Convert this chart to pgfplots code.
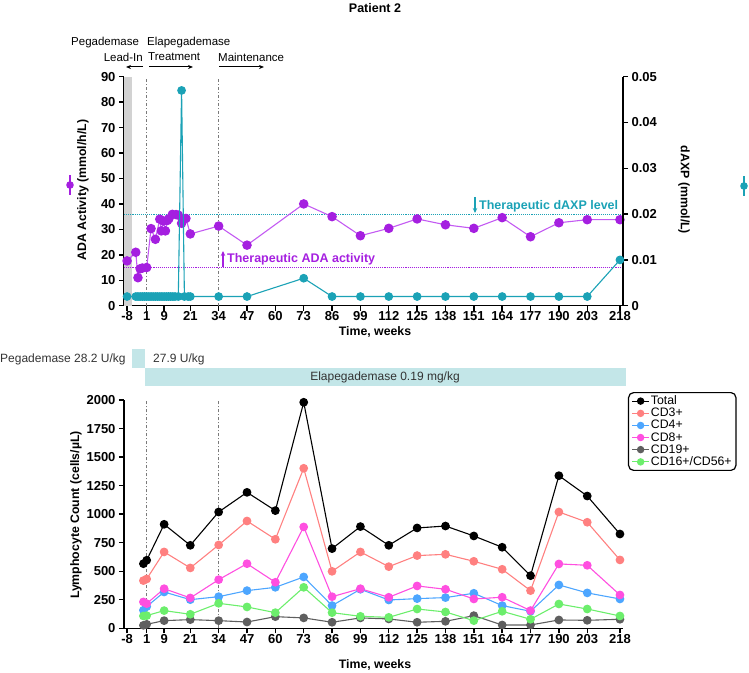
\documentclass[border=0pt]{standalone}
\usepackage{fontspec}
\setmainfont{Liberation Sans}
\usepackage{pgfplots}
\pgfplotsset{compat=1.18}
\usetikzlibrary{arrows.meta}

\definecolor{ada}{HTML}{A51FE0}
\definecolor{adaline}{HTML}{C35AF2}
\definecolor{dax}{HTML}{1BA2B6}
\definecolor{dose}{HTML}{C3E6E8}
\definecolor{cdthree}{HTML}{FF8080}
\definecolor{cdfour}{HTML}{4DA6FF}
\definecolor{cdeight}{HTML}{FF4FE0}
\definecolor{cdnineteen}{HTML}{5F5F5F}
\definecolor{cdsixteen}{HTML}{6CEE6C}
\definecolor{vline}{HTML}{7A7A7A}

\pgfplotsset{
  panel/.style={
    scale only axis, width=499pt,
    xmin=-9.4, xmax=219.4,
    xtick={-8,1,9,21,34,47,60,73,86,99,112,125,138,151,164,177,190,203,218},
    tick align=outside, major tick length=5pt,
    axis line style={-, line width=1.6pt},
    every tick/.style={black, line width=1.4pt},
    ticklabel style={font=\bfseries\fontsize{13}{13}\selectfont},
    xticklabel style={yshift=2.5pt},
    /pgf/number format/assume math mode=true,
    /pgf/number format/1000 sep={},
    scaled y ticks=false,
    clip=false,
  },
  series/.style={mark=*, line width=1.1pt, mark options={solid}},
}

\begin{document}
\begin{tikzpicture}[x=1pt,y=1pt]
\useasboundingbox (0,0) rectangle (749,672);

% ---------- top panel: ADA activity ----------
\begin{axis}[panel, at={(124pt,366.3pt)}, anchor=south west, height=229pt,
    ymin=0, ymax=90, ytick={0,10,...,90},
    axis x line*=bottom, axis y line*=left]
\addplot[fill=gray!35, draw=none] coordinates {(-9.4,0) (-5.8,0) (-5.8,90) (-9.4,90)} -- cycle;
\addplot[vline, line width=1.1pt, dash pattern=on 3pt off 2pt on 1pt off 2pt] coordinates {(1,0) (1,90)};
\addplot[vline, line width=1.1pt, dash pattern=on 3pt off 2pt on 1pt off 2pt] coordinates {(34,0) (34,90)};
\addplot[ada, line width=1.1pt, densely dotted] coordinates {(-9.4,15) (219.4,15)};
\addplot[dax, line width=1.1pt, densely dotted] coordinates {(-9.4,36) (219.4,36)};
\addplot[series, color=adaline, mark size=4.2pt, mark options={fill=ada, draw=ada}] coordinates {
  (-8,17.6) (-4,21.0) (-3,11.0) (-2,14.5) (-1,14.8) (1,15.0) (3,30.3) (5,26.1)
  (7,34.0) (7.7,29.4) (8.7,33.3) (9.6,29.4) (10.5,33.5) (11.2,34.2) (12.8,35.9)
  (14.5,35.8) (15.5,35.6) (17,32.4) (19,34.3) (21,28.2) (34,31.3) (47,23.8)
  (73,40.0) (86,35.0) (99,27.5) (112,30.4) (125,34.1) (138,31.8) (151,30.4)
  (164,34.6) (177,27.1) (190,32.6) (203,33.8) (218,33.8)
};
\end{axis}

% ---------- top panel: dAXP ----------
\begin{axis}[panel, at={(124pt,366.3pt)}, anchor=south west, height=229pt,
    ymin=0, ymax=0.05, ytick={0,0.01,0.02,0.03,0.04,0.05},
    yticklabels={0,0.01,0.02,0.03,0.04,0.05},
    axis y line*=right, axis x line=none]
\addplot[series, color=dax, mark size=3.8pt, mark options={fill=dax, draw=dax}] coordinates {
  (-8,0.002) (-4,0.002) (-3,0.002) (-2,0.002) (-1,0.002) (0,0.002) (1,0.002)
  (2,0.002) (3,0.002) (4,0.002) (5,0.002) (6,0.002) (7,0.002) (8,0.002)
  (9,0.002) (10,0.002) (11,0.002) (12,0.002) (13,0.002) (14,0.002) (15.5,0.002)
  (17,0.047) (18.3,0.002) (20,0.002) (21,0.002) (34,0.002) (47,0.002)
  (73,0.006) (86,0.002) (99,0.002) (112,0.002) (125,0.002) (138,0.002)
  (151,0.002) (164,0.002) (177,0.002) (190,0.002) (203,0.002) (218,0.01)
};
\end{axis}

% ---------- bottom panel: lymphocytes ----------
\begin{axis}[panel, at={(124pt,43.7pt)}, anchor=south west, height=228.3pt,
    ymin=0, ymax=2000, ytick={0,250,...,2000},
    axis x line*=bottom, axis y line*=left,
    legend cell align=left,
    legend style={at={(1.01,1.035)}, anchor=north west, draw=black,
      line width=1.2pt, rounded corners=5pt, inner xsep=3pt, inner ysep=2pt,
      font=\fontsize{12.3}{12.3}\selectfont, row sep=-0.6pt,
      nodes={inner sep=1.3pt}},
    legend image post style={line width=1pt, mark size=3.2pt}]
\addplot[fill=dose, draw=none, forget plot] coordinates {(-5.7,2283) (0,2283) (0,2444) (-5.7,2444)} -- cycle;
\addplot[fill=dose, draw=none, forget plot] coordinates {(0,2123) (220.7,2123) (220.7,2283) (0,2283)} -- cycle;
\addplot[vline, line width=1.1pt, dash pattern=on 3pt off 2pt on 1pt off 2pt, forget plot] coordinates {(1,0) (1,2000)};
\addplot[vline, line width=1.1pt, dash pattern=on 3pt off 2pt on 1pt off 2pt, forget plot] coordinates {(34,0) (34,2000)};
\addplot[series, color=black, mark size=3.8pt] coordinates {
  (-0.5,566) (1,596) (9,911) (21,727) (34,1019) (47,1191) (60,1031) (73,1980)
  (86,698) (99,891) (112,727) (125,879) (138,896) (151,809) (164,710) (177,461)
  (190,1337) (203,1159) (218,826)
};
\addlegendentry{Total}
\addplot[series, color=cdthree, mark size=3.8pt] coordinates {
  (-0.5,418) (1,432) (9,669) (21,529) (34,730) (47,940) (60,780) (73,1402)
  (86,499) (99,669) (112,540) (125,637) (138,648) (151,587) (164,517) (177,330)
  (190,1019) (203,929) (218,599)
};
\addlegendentry{CD3+}
\addplot[series, color=cdfour, mark size=3.8pt] coordinates {
  (-0.5,158) (1,190) (9,318) (21,251) (34,277) (47,330) (60,359) (73,450)
  (86,199) (99,342) (112,248) (125,260) (138,269) (151,307) (164,199) (177,149)
  (190,380) (203,310) (218,257)
};
\addlegendentry{CD4+}
\addplot[series, color=cdeight, mark size=3.8pt] coordinates {
  (-0.5,231) (1,216) (9,347) (21,266) (34,426) (47,566) (60,403) (73,888)
  (86,277) (99,347) (112,272) (125,371) (138,342) (151,257) (164,272) (177,155)
  (190,564) (203,552) (218,292)
};
\addlegendentry{CD8+}
\addplot[series, color=cdnineteen, mark size=3.8pt] coordinates {
  (-0.5,26) (1,35) (9,67) (21,76) (34,67) (47,55) (60,102) (73,91)
  (86,53) (99,91) (112,82) (125,53) (138,61) (151,111) (164,29) (177,29)
  (190,73) (203,70) (218,79)
};
\addlegendentry{CD19+}
\addplot[series, color=cdsixteen, mark size=3.8pt] coordinates {
  (-0.5,108) (1,111) (9,155) (21,123) (34,219) (47,187) (60,137) (73,359)
  (86,137) (99,105) (112,96) (125,169) (138,143) (151,67) (164,149) (177,79)
  (190,213) (203,169) (218,108)
};
\addlegendentry{CD16+/CD56+}
\end{axis}

% ---------- titles, labels and notes ----------
\node[font=\bfseries\fontsize{12.5}{13}\selectfont] at (375,664) {Patient 2};
\begin{scope}[font=\fontsize{11.5}{12}\selectfont, inner sep=0pt]
\node[anchor=west] at (71,629) {Pegademase};
\node[anchor=east] at (143,615) {Lead-In};
\node[anchor=west] at (147,629) {Elapegademase};
\node[anchor=west] at (148,615) {Treatment};
\node[anchor=west] at (218,615) {Maintenance};
\end{scope}
\draw[line width=1pt, -{Stealth[length=5pt,width=4pt]}] (143,605) -- (126,605);
\draw[line width=1pt, -{Stealth[length=5pt,width=4pt]}] (149,605) -- (193,605);
\draw[line width=1pt, -{Stealth[length=5pt,width=4pt]}] (219,605) -- (264,605);

\node[rotate=90, font=\bfseries\fontsize{12.3}{13}\selectfont] at (83,482) {ADA Activity (mmol/h/L)};
\draw[ada, line width=1.1pt] (70,477) -- (70,497);
\fill[ada] (70,487) circle (3.8pt);
\node[rotate=-90, font=\bfseries\fontsize{12.3}{13}\selectfont] at (684,482) {dAXP (mmol/L)};
\draw[dax, line width=1.1pt] (744,476) -- (744,496);
\fill[dax] (744,486) circle (3.8pt);
\node[font=\bfseries\fontsize{12.3}{13}\selectfont] at (375,340) {Time, weeks};

\draw[ada, line width=1.3pt, -{Stealth[length=5pt,width=4.5pt]}] (223,405) -- (223,421);
\node[ada, anchor=west, inner sep=0pt, font=\bfseries\fontsize{12.5}{13}\selectfont] at (227,413) {Therapeutic ADA activity};
\draw[dax, line width=1.3pt, -{Stealth[length=5pt,width=4.5pt]}] (475,475) -- (475,459);
\node[dax, anchor=west, inner sep=0pt, font=\bfseries\fontsize{12.5}{13}\selectfont] at (479,466) {Therapeutic dAXP level};

\begin{scope}[font=\fontsize{12}{12}\selectfont, text=black!80, inner sep=0pt]
\node[anchor=west] at (0,313) {Pegademase 28.2 U/kg};
\node[anchor=west] at (153,313) {27.9 U/kg};
\node at (385,295) {Elapegademase 0.19 mg/kg};
\end{scope}

\node[rotate=90, font=\bfseries\fontsize{12.3}{13}\selectfont] at (76,157) {Lymphocyte Count (cells/\textmu L)};
\node[font=\bfseries\fontsize{12.3}{13}\selectfont] at (375,7) {Time, weeks};
\end{tikzpicture}
\end{document}
